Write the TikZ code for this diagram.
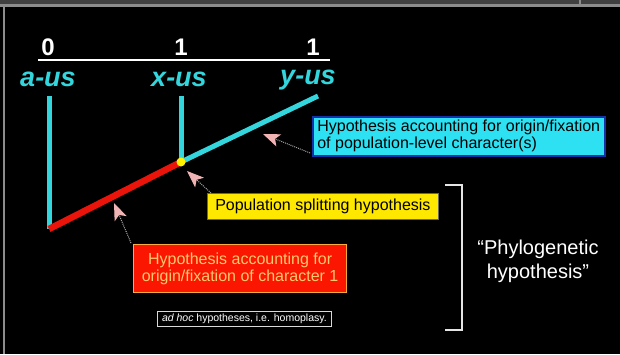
\documentclass[tikz,border=0pt]{standalone}
\usepackage{fontspec}
\setmainfont{Liberation Sans}
\usetikzlibrary{arrows.meta}
\definecolor{cyanline}{RGB}{52,214,222}
\definecolor{cyanbox}{RGB}{45,225,242}
\definecolor{cyanborder}{RGB}{20,50,170}
\definecolor{redline}{RGB}{235,20,10}
\definecolor{redbox}{RGB}{250,22,0}
\definecolor{redborder}{RGB}{255,170,60}
\definecolor{redtext}{RGB}{255,200,110}
\definecolor{yellowbox}{RGB}{255,232,0}
\definecolor{pinktip}{RGB}{240,180,180}
\definecolor{framegray}{RGB}{140,140,140}
\tikzset{
  digit/.style={text=white, font=\fontsize{24}{24}\selectfont\bfseries, inner sep=0pt},
  taxon/.style={text=cyanline, font=\fontsize{27}{27}\selectfont\bfseries\itshape, inner sep=0pt},
  boxtext/.style={font=\fontsize{16}{17}\selectfont, inner sep=0pt, anchor=north west},
  cyanlbl/.style={boxtext, fill=cyanbox, draw=cyanborder, line width=1.5pt, text=black, align=left, minimum width=292pt, minimum height=39pt},
  yellowlbl/.style={boxtext, fill=yellowbox, draw=black!60, line width=0.8pt, text=black, minimum width=231pt, minimum height=26pt},
  redlbl/.style={boxtext, fill=redbox, draw=redborder, line width=1.2pt, text=redtext, align=center, minimum width=213pt, minimum height=48pt},
  smalllbl/.style={anchor=north west, draw=white!85!black, line width=0.8pt, text=white, font=\fontsize{10.5}{11}\selectfont, inner sep=0pt, minimum width=174pt, minimum height=15pt},
  branch/.style={cyanline, line width=5pt},
  redbranch/.style={redline, line width=6.5pt},
  pointer/.style={densely dotted, white!65!black, line width=1pt, -{Stealth[length=17pt, width=13pt, inset=4pt, color=pinktip]}},
  bracket/.style={white!90!black, line width=2.5pt},
  phylo/.style={text=white, font=\fontsize{20}{24}\selectfont, align=center, inner sep=0pt}
}
\begin{document}
\begin{tikzpicture}[x=1pt,y=-1pt]
\fill[black] (0,0) rectangle (620,354);
\useasboundingbox (0,0) rectangle (620,354);
% frame remnants
\fill[black!75] (0,0) rectangle (620,3.5);
\fill[framegray] (0,3.5) rectangle (620,6.5);
\fill[framegray] (2.5,6.5) rectangle (4.5,354);
\fill[framegray] (579,0) rectangle (581,6.5);
% header
\node[digit] (d0) at (48,47) {0};
\node[digit] (d1) at (181,47) {1};
\node[digit] (d2) at (313,47) {1};
\coordinate (hl) at (38,60);
\coordinate (hr) at (330,60);
\draw[white, line width=2pt] (hl) -- (hr);
\node[taxon] (ta) at (48,79) {a-us};
\node[taxon] (tx) at (179,79) {x-us};
\node[taxon] (ty) at (308,80) {y-us};
% tree
\coordinate (atop) at (49,96);
\coordinate (root) at (49,229);
\coordinate (junc) at (181,162);
\coordinate (xtop) at (181,96);
\coordinate (ytop) at (318,96);
\draw[branch] (atop) -- (root);
\draw[branch] (junc) -- (xtop);
\draw[branch] (junc) -- (ytop);
\draw[redbranch] (root) -- (junc);
\fill[yellow] (junc) circle (4.5pt);
% boxes
\node[cyanlbl] (cb) at (312,116) {Hypothesis accounting for origin/fixation\\of population-level character(s)};
\node[yellowlbl] (yb) at (207,193) {Population splitting hypothesis};
\node[redlbl] (rb) at (133,244) {Hypothesis accounting for\\origin/fixation of character 1};
\node[smalllbl] (sb) at (157,311) {\textit{ad hoc} hypotheses, i.e. homoplasy.};
% pointers
\coordinate (p1s) at (310,153);
\coordinate (p1e) at (263,134);
\coordinate (p2s) at (211,193);
\coordinate (p2e) at (187,171);
\coordinate (p3s) at (131,243);
\coordinate (p3e) at (114,203);
\draw[pointer] (p1s) -- (p1e);
\draw[pointer] (p2s) -- (p2e);
\draw[pointer] (p3s) -- (p3e);
% bracket
\coordinate (b1) at (445,185);
\coordinate (b2) at (462,185);
\coordinate (b3) at (462,330);
\coordinate (b4) at (445,330);
\draw[bracket] (b1) -- (b2) -- (b3) -- (b4);
\node[phylo] (ph) at (538,261) {“Phylogenetic\\hypothesis”};
\end{tikzpicture}
\end{document}
